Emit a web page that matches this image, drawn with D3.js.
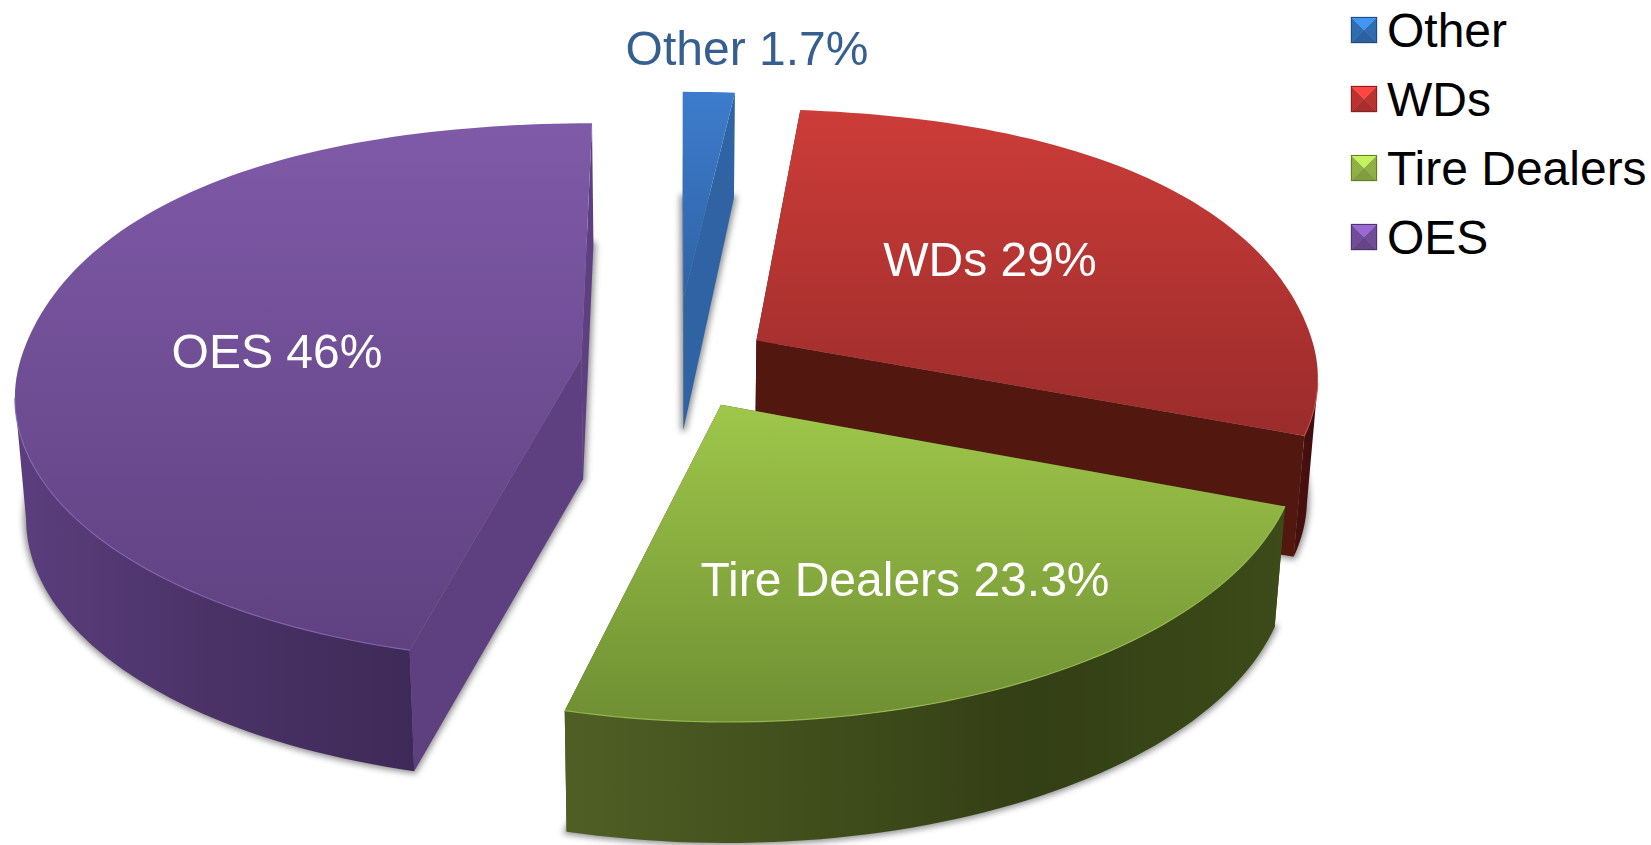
<!DOCTYPE html>
<html>

<head>
    <script src="https://d3js.org/d3.v7.min.js"></script>
    <title>Market share</title>
    <style>
        html, body {
            margin: 0;
            padding: 0;
            background: #fff;
            overflow: hidden;
        }

        text {
            font-family: 'Liberation Sans', Arial, sans-serif;
            font-size: 48px;
        }
    </style>
</head>

<body>
    <svg id="chart" width="1651" height="845"></svg>

    <script>
        var categories = ["Other", "WDs", "Tire Dealers", "OES"];
        var shares = [1.7, 29, 23.3, 46];
        var legendOrder = ["Other", "WDs", "Tire Dealers", "OES"];

        // how far each slice is pulled out, in pie radii
        var explode = [0.255, 0.17, 0.17, 0.17];
        // the thin slice is a bit shorter than the others
        var depthScale = [0.92, 1, 1, 1];
        var labelX = [747, 990, 905, 277];
        var labelY = [65, 276, 596, 368];
        var labelFill = ["#365f91", "#fff", "#fff", "#fff"];

        var baseColor = ["#2f6cb0", "#bb3331", "#8fb045", "#704c99"];
        var topFrom = ["#3d7ccc", "#cc3c38", "#9fc74a", "#7f5aa8"];
        var topTo = ["#2f62a5", "#9a2c2b", "#6f8f33", "#5f4180"];
        var wallFrom = ["#2f63a3", "#470f0d", "#4f5f24", "#5b3e7e"];
        var wallMid = ["#2f63a3", "#400e0c", "#333f14", "#4a3266"];
        var wallTo = ["#2f63a3", "#3a0c0b", "#3c4b19", "#3e2a58"];
        var cutColor = ["#2f63a3", "#52170f", "#3a4a18", "#5e4081"];
        var rimLight = ["#3d7ccc", "#c8504c", "#a3c457", "#8a68b8"];

        var cx = 676, cy = 364, R = 562, Ry = 266, persp = 0.126;
        var bottomShrink = 0.983;
        // the far half of the rim is fuller than a true ellipse
        var farBulge = 0.03;
        // wall height at the slice tip, and how much it changes going towards the viewer
        var wallBase = [132, 121, 121, 121];
        var wallTilt = [29, 0, 0, 0];

        var svg = d3.select("#chart");
        var defs = svg.append("defs");

        defs.append("filter")
            .attr("id", "soft")
            .attr("x", "-20%").attr("y", "-20%")
            .attr("width", "140%").attr("height", "140%")
            .append("feGaussianBlur")
            .attr("stdDeviation", 3);

        function topPoint(p) {
            var w = 1 - persp * p[1];
            return [cx + R * p[0] / w, cy + Ry * p[1] / w];
        }

        var pie = d3.pie().sort(null).value(function (d) { return d; });
        var slices = pie(shares);
        var line = d3.line();

        function planeOf(d, i) {
            var mid = (d.startAngle + d.endAngle) / 2;
            var ox = explode[i] * Math.sin(mid);
            var oy = -explode[i] * Math.cos(mid);
            return function (r, a) {
                var s = Math.sin(2 * a);
                var full = Math.cos(a) > 0 ? r * (1 + farBulge * s * s) : r;
                return [ox + full * Math.sin(a), oy - depthScale[i] * full * Math.cos(a)];
            };
        }

        function bottomOf(i, center) {
            return function (p) {
                var w = 1 - persp * p[1];
                var h = wallBase[i] + wallTilt[i] * (p[1] - center[1]);
                return [cx + bottomShrink * R * p[0] / w, cy + Ry * p[1] / w + h];
            };
        }

        function rim(plane, a0, a1) {
            var n = Math.max(4, Math.round((a1 - a0) * 40));
            return d3.range(n + 1).map(function (j) {
                return plane(1, a0 + (a1 - a0) * j / n);
            });
        }

        // the part of the rim that faces the viewer, x runs backwards there
        function frontRim(arc) {
            return arc.filter(function (p, j) {
                var a = topPoint(arc[Math.max(j - 1, 0)]);
                var b = topPoint(arc[Math.min(j + 1, arc.length - 1)]);
                return b[0] < a[0];
            });
        }

        function addGradient(id, x1, y1, x2, y2, stops) {
            var g = defs.append("linearGradient")
                .attr("id", id)
                .attr("gradientUnits", "userSpaceOnUse")
                .attr("x1", x1).attr("y1", y1)
                .attr("x2", x2).attr("y2", y2);
            stops.forEach(function (s) {
                g.append("stop").attr("offset", s[0]).attr("stop-color", s[1]);
            });
        }

        var shadows = svg.append("g").attr("opacity", 0.6);
        var pieces = svg.append("g");

        slices.forEach(function (d, i) {
            var plane = planeOf(d, i);
            var center = plane(0, 0);
            var outline = [center].concat(rim(plane, d.startAngle, d.endAngle));

            shadows.append("path")
                .attr("d", line(outline.map(bottomOf(i, center))) + "Z")
                .attr("fill", "#444")
                .attr("stroke", "#444")
                .attr("stroke-width", 5)
                .attr("filter", "url(#soft)");
        });

        // back to front, the green slice has to sit over the red wall
        [0, 3, 1, 2].forEach(function (i) {
            var d = slices[i];
            var plane = planeOf(d, i);
            var arc = rim(plane, d.startAngle, d.endAngle);
            var center = plane(0, 0);
            var bottomPoint = bottomOf(i, center);
            var g = pieces.append("g");

            var topPts = [center].concat(arc).map(topPoint);
            var front = frontRim(arc);

            addGradient("top" + i, 0, d3.min(topPts, function (p) { return p[1]; }),
                0, d3.max(topPts, function (p) { return p[1]; }),
                [[0, topFrom[i]], [1, topTo[i]]]);

            // both cut faces, the top face hides whatever should not show
            [d.startAngle, d.endAngle].forEach(function (a) {
                var edge = plane(1, a);
                var quad = [topPoint(center), topPoint(edge), bottomPoint(edge), bottomPoint(center)];
                g.append("path")
                    .attr("d", line(quad) + "Z")
                    .attr("fill", cutColor[i]);
            });

            // outer wall
            if (front.length > 1) {
                var frontTop = front.map(topPoint);
                var frontBottom = front.map(bottomPoint);
                addGradient("wall" + i, d3.min(frontTop, function (p) { return p[0]; }), 0,
                    d3.max(frontTop, function (p) { return p[0]; }), 0,
                    i == 3
                        ? [[0, wallFrom[i]], [0.5, wallMid[i]], [1, wallTo[i]]]
                        : [[0, wallFrom[i]], [0.65, wallMid[i]], [1, wallTo[i]]]);
                g.append("path")
                    .attr("d", line(frontTop.concat(frontBottom.slice().reverse())) + "Z")
                    .attr("fill", "url(#wall" + i + ")");
            }

            g.append("path")
                .attr("d", line(topPts) + "Z")
                .attr("fill", "url(#top" + i + ")");

            // thin bevel highlight along the front rim
            if (front.length > 1) {
                g.append("path")
                    .attr("d", line(front.map(topPoint)))
                    .attr("fill", "none")
                    .attr("stroke", rimLight[i])
                    .attr("stroke-opacity", 0.8)
                    .attr("stroke-width", 1.2);
            }
        });

        svg.append("g").selectAll("text")
            .data(categories)
            .join("text")
            .attr("x", function (d, i) { return labelX[i]; })
            .attr("y", function (d, i) { return labelY[i]; })
            .attr("text-anchor", "middle")
            .attr("fill", function (d, i) { return labelFill[i]; })
            .text(function (d, i) { return d + " " + shares[i] + "%"; });

        // legend, the swatches are little bevelled pyramids
        var legendX = 1351, legendY = 17, legendStep = 69, box = 26;

        var legend = svg.append("g").selectAll("g")
            .data(legendOrder)
            .join("g")
            .attr("transform", function (d, i) {
                return "translate(" + legendX + "," + (legendY + i * legendStep) + ")";
            });

        legend.each(function (name) {
            var base = d3.color(baseColor[categories.indexOf(name)]);
            var g = d3.select(this);
            var m = box / 2;
            var sides = [
                [[[0, 0], [0, box], [m, m]], base],
                [[[box, 0], [box, box], [m, m]], base],
                [[[0, box], [box, box], [m, m]], base.darker(0.3)],
                [[[0, 0], [box, 0], [m, m]], base.brighter(0.9)]
            ];
            sides.forEach(function (s) {
                g.append("path").attr("d", line(s[0]) + "Z")
                    .attr("fill", s[1])
                    .attr("stroke", s[1])
                    .attr("stroke-width", 0.4);
            });
            g.append("rect")
                .attr("x", 0.5).attr("y", 0.5)
                .attr("width", box - 1).attr("height", box - 1)
                .attr("fill", "none")
                .attr("stroke", base.darker(1));
        });

        legend.append("text")
            .attr("x", 36)
            .attr("y", 30)
            .attr("fill", "#000")
            .text(function (d) { return d; });
    </script>
</body>
</html>
